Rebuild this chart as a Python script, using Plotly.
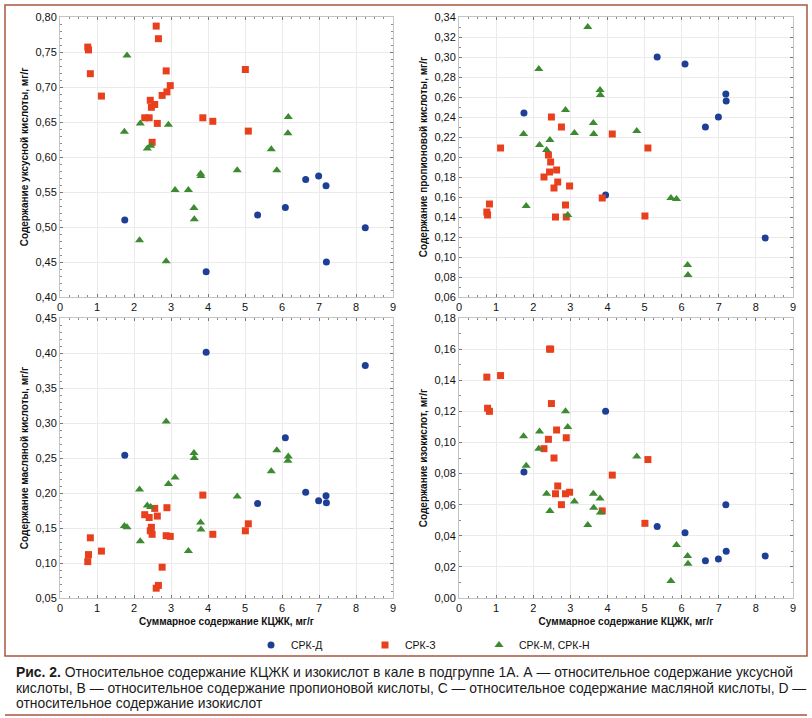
import plotly.graph_objects as go

W, H = 812, 718

# ---------------- data ----------------
# СРК-Д (blue circles)
d_x = [1.75, 3.95, 5.34, 6.09, 6.64, 6.99, 7.19, 7.20, 8.25]
d_acetic = [0.510, 0.436, 0.517, 0.528, 0.568, 0.573, 0.559, 0.450, 0.499]
d_propionic = [0.244, 0.162, 0.300, 0.293, 0.230, 0.240, 0.263, 0.256, 0.119]
d_butyric = [0.254, 0.401, 0.185, 0.279, 0.201, 0.189, 0.196, 0.186, 0.382]
d_iso = [0.081, 0.120, 0.046, 0.042, 0.024, 0.025, 0.060, 0.030, 0.027]

# СРК-З (red squares)
z_x = [0.75, 0.77, 0.82, 1.12, 2.29, 2.41, 2.44, 2.47, 2.49, 2.56, 2.60,
       2.63, 2.66, 2.76, 2.87, 2.89, 2.98, 3.86, 4.13, 5.01, 5.09]
z_acetic = [0.757, 0.753, 0.719, 0.687, 0.656, 0.656, 0.681, 0.671, 0.621, 0.675, 0.787,
            0.648, 0.769, 0.688, 0.723, 0.693, 0.702, 0.656, 0.651, 0.725, 0.637]
z_propionic = [0.145, 0.142, 0.153, 0.209, 0.180, 0.202, 0.185, 0.195, 0.240, 0.169, 0.140,
               0.187, 0.175, 0.230, 0.152, 0.140, 0.171, 0.159, 0.223, 0.141, 0.209]
z_butyric = [0.102, 0.112, 0.136, 0.117, 0.169, 0.165, 0.146, 0.151, 0.141, 0.178, 0.064,
             0.167, 0.068, 0.094, 0.139, 0.179, 0.138, 0.197, 0.141, 0.146, 0.156]
z_iso = [0.142, 0.122, 0.120, 0.143, 0.096, 0.102, 0.160, 0.160, 0.125, 0.090, 0.067,
         0.108, 0.072, 0.060, 0.067, 0.103, 0.068, 0.056, 0.079, 0.048, 0.089]

# СРК-М, СРК-Н (green triangles)
m_x = [1.74, 1.81, 2.15, 2.17, 2.36, 2.45, 2.87, 2.93, 3.11, 3.47, 3.62,
       3.63, 3.80, 3.81, 4.79, 5.71, 5.86, 6.16, 6.17]
m_acetic = [0.636, 0.745, 0.481, 0.648, 0.612, 0.616, 0.451, 0.646, 0.553, 0.553, 0.527,
            0.511, 0.576, 0.573, 0.581, 0.611, 0.581, 0.634, 0.657]
m_propionic = [0.223, 0.151, 0.288, 0.212, 0.207, 0.217, 0.247, 0.142, 0.224, 0.330, 0.234,
               0.223, 0.267, 0.262, 0.226, 0.159, 0.158, 0.092, 0.082]
m_butyric = [0.153, 0.151, 0.205, 0.131, 0.182, 0.180, 0.302, 0.213, 0.222, 0.117, 0.257,
             0.250, 0.158, 0.148, 0.195, 0.231, 0.261, 0.246, 0.252]
m_iso = [0.104, 0.085, 0.096, 0.107, 0.067, 0.056, 0.120, 0.110, 0.062, 0.047, 0.067,
         0.058, 0.064, 0.055, 0.091, 0.011, 0.034, 0.027, 0.022]

group_names = ["СРК-Д", "СРК-З", "СРК-М, СРК-Н"]
y_titles = ["Содержание уксусной кислоты, мг/г",
            "Содержание пропионовой кислоты, мг/г",
            "Содержание масляной кислоты, мг/г",
            "Содержание изокислот, мг/г"]
x_title = "Суммарное содержание КЦЖК, мг/г"
y_ranges = [(0.40, 0.80, 0.05), (0.06, 0.34, 0.02), (0.05, 0.45, 0.05), (0.00, 0.18, 0.02)]
caption_lines = [
    "<b>Рис. 2.</b> Относительное содержание КЦЖК и изокислот в кале в подгруппе 1А. А — относительное содержание уксусной",
    "кислоты, В — относительное содержание пропионовой кислоты, С — относительное содержание масляной кислоты, D —",
    "относительное содержание изокислот",
]

# ---------------- styling ----------------
COL = {"d": "#1d3f95", "z": "#e8401d", "m": "#3d8b30"}
SYM = {"d": "circle", "z": "square", "m": "triangle-up"}
FAM = "Liberation Sans Narrow, Arial Narrow, Liberation Sans, Arial, sans-serif"
TICKFONT = dict(family=FAM, size=11, color="#111111")
TITLEFONT = dict(family=FAM, size=10, color="#111111", weight="bold")

def px_x(p):
    return p / W

def px_y(p):
    return 1 - p / H

# panel pixel boxes: (left, right, top, bottom)
boxes = [(60, 393, 17, 297), (459, 793, 17, 297), (60, 393, 318, 598), (459, 793, 318, 598)]

series = [
    ("d", d_x, [d_acetic, d_propionic, d_butyric, d_iso]),
    ("z", z_x, [z_acetic, z_propionic, z_butyric, z_iso]),
    ("m", m_x, [m_acetic, m_propionic, m_butyric, m_iso]),
]

fig = go.Figure()
for p in range(4):
    xa = "x" if p == 0 else f"x{p+1}"
    ya = "y" if p == 0 else f"y{p+1}"
    for gi, (key, xs, ys_list) in enumerate(series):
        fig.add_trace(go.Scatter(
            x=xs, y=ys_list[p], mode="markers", xaxis=xa, yaxis=ya,
            name=group_names[gi], legendgroup=key, showlegend=(p == 0),
            marker=dict(symbol=SYM[key], color=COL[key], size=7 if key != "m" else 8,
                        line=dict(width=0)),
        ))

layout = dict(
    width=W, height=H, autosize=False,
    margin=dict(l=0, r=0, t=0, b=0, pad=0),
    paper_bgcolor="white", plot_bgcolor="white",
    separators=", ",
    showlegend=True,
    legend=dict(orientation="h", x=px_x(251), y=px_y(645), xanchor="left", yanchor="middle",
                entrywidth=69, entrywidthmode="pixels", itemwidth=30,
                font=dict(family=FAM, size=10.5, color="#111111"),
                bgcolor="rgba(0,0,0,0)", tracegroupgap=0),
)

for p, (l, r, t, b) in enumerate(boxes):
    xk = "xaxis" if p == 0 else f"xaxis{p+1}"
    yk = "yaxis" if p == 0 else f"yaxis{p+1}"
    ylo, yhi, ydt = y_ranges[p]
    layout[xk] = dict(
        domain=[px_x(l), px_x(r)], anchor="y" if p == 0 else f"y{p+1}", automargin=False,
        range=[0, 9], dtick=1, tick0=0, tickformat="d",
        showgrid=True, gridcolor="#ebebeb", gridwidth=1, zeroline=False,
        showline=True, linecolor="#c4c4c4", linewidth=1, mirror="allticks",
        ticks="inside", ticklen=3, tickcolor="#777",
        minor=dict(ticks="inside", ticklen=2, dtick=0.25, tickcolor="#8a8a8a", showgrid=False),
        tickfont=TICKFONT,
        title=dict(text=x_title if p >= 2 else "", font=TITLEFONT, standoff=4),
    )
    layout[yk] = dict(
        domain=[px_y(b), px_y(t)], anchor="x" if p == 0 else f"x{p+1}", automargin=False,
        range=[ylo, yhi], dtick=ydt, tick0=ylo, tickformat=".2f",
        showgrid=True, gridcolor="#ebebeb", gridwidth=1, zeroline=False,
        showline=True, linecolor="#c4c4c4", linewidth=1, mirror="allticks",
        ticks="inside", ticklen=3, tickcolor="#777",
        minor=dict(ticks="inside", ticklen=2, dtick=ydt / 5 if ydt == 0.05 else ydt / 2,
                   tickcolor="#8a8a8a", showgrid=False),
        tickfont=TICKFONT,
        title=dict(text=y_titles[p], font=TITLEFONT, standoff=4),
    )

fig.update_layout(**layout)

# frame and separators
frame_col = "#a9553f"
fig.add_shape(type="rect", xref="paper", yref="paper",
              x0=px_x(5), x1=px_x(807), y0=px_y(656), y1=px_y(5),
              line=dict(color=frame_col, width=1.5), fillcolor="rgba(0,0,0,0)", layer="below")
fig.add_shape(type="line", xref="paper", yref="paper",
              x0=px_x(5), x1=px_x(807), y0=px_y(715), y1=px_y(715),
              line=dict(color=frame_col, width=1.5))

for i, (line, yc) in enumerate(zip(caption_lines, [672, 688, 703])):
    fig.add_annotation(text=line, xref="paper", yref="paper", x=px_x(14), y=px_y(yc),
                       xanchor="left", yanchor="middle", showarrow=False,
                       font=dict(family="Liberation Sans, Arial, sans-serif", size=13.9, color="#1a1a1a"))

fig.write_html("out.html", config={"displayModeBar": False},
               post_script="document.body.style.margin='0';document.body.style.overflow='hidden';")
